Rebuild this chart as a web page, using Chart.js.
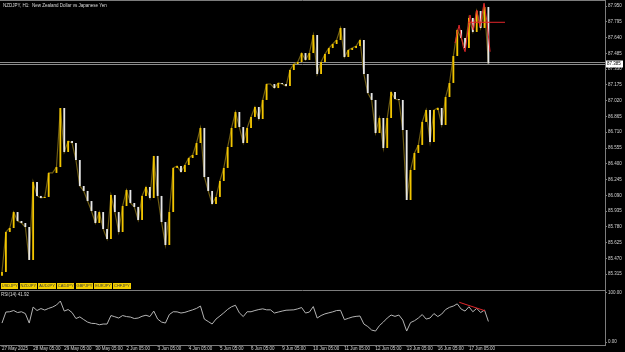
<!DOCTYPE html>
<html>
<head>
<meta charset="utf-8">
<script src="https://cdn.jsdelivr.net/npm/chart.js@4.4.1/dist/chart.umd.min.js"></script>
<style>
  html, body { margin: 0; padding: 0; background: #000; }
  #wrap { position: relative; width: 625px; height: 352px; overflow: hidden; font-family: "Liberation Sans", Arial, sans-serif; }
  canvas { position: absolute; left: 0; }
  #main { top: 0; }
  #rsi { top: 290px; }
  .lbl { position: absolute; color: #dcdcdc; font-size: 4.5px; white-space: nowrap; line-height: 5px; }
  #title { left: 3px; top: 3px; }
  #rsiLabel { left: 1px; top: 292px; }
  #syms { position: absolute; left: 1px; top: 283px; display: flex; gap: 1.3px; }
  .sym { width: 17.4px; height: 6px; background: #f3cf00; color: #3a3a3a; font-size: 4px; text-align: center; line-height: 6px; }
</style>
</head>
<body>
<div id="wrap">
  <canvas id="main" width="625" height="290"></canvas>
  <canvas id="rsi" width="625" height="62"></canvas>
  <div id="title" class="lbl">NZDJPY, H1:&nbsp; New Zealand Dollar vs Japanese Yen</div>
  <div id="syms"></div>
  <div id="rsiLabel" class="lbl">RSI(14) 41.92</div>
</div>
<script>
// time axis: H1 bar number of each day label (27 May 05:00 = bar 0)
const dayLabels = ['27 May 2025', '28 May 05:00', '29 May 05:00', '30 May 05:00', '2 Jun 05:00', '3 Jun 05:00',
  '4 Jun 05:00', '5 Jun 05:00', '6 Jun 05:00', '9 Jun 05:00', '10 Jun 05:00', '11 Jun 05:00',
  '12 Jun 05:00', '13 Jun 05:00', '16 Jun 05:00', '17 Jun 05:00'];
const dayBars = [0, 24, 48, 72, 96, 120, 144, 168, 192, 216, 240, 264, 288, 312, 336, 360];
const symbols = ['USDJPY', 'NZDJPY', 'AUDJPY', 'CADJPY', 'GBPJPY', 'EURJPY', 'CHFJPY'];

// closes read every 3 H1 bars
const barStep = 3;
const firstOpen = 85.30;
const closes = [
  85.337, 85.730, 85.769, 85.926, 85.838, 85.818, 85.779, 85.455, 86.221, 86.084,
  86.064, 86.074, 86.310, 86.310, 86.368, 86.948, 86.516, 86.624, 86.604, 86.437,
  86.182, 86.133, 86.034, 85.936, 85.818, 85.926, 85.759, 85.661, 86.093, 85.926,
  85.730, 85.985, 86.143, 86.015, 85.976, 85.848, 86.084, 86.172, 86.064, 86.477,
  86.084, 85.828, 85.602, 85.926, 86.359, 86.378, 86.319, 86.388, 86.457, 86.486,
  86.604, 86.752, 86.270, 86.133, 86.005, 86.074, 86.231, 86.359, 86.565, 86.752,
  86.909, 86.761, 86.604, 86.752, 86.860, 86.958, 86.840, 87.027, 87.184, 87.184,
  87.144, 87.194, 87.184, 87.164, 87.321, 87.380, 87.400, 87.488, 87.420, 87.488,
  87.665, 87.282, 87.400, 87.478, 87.537, 87.577, 87.616, 87.734, 87.449, 87.518,
  87.537, 87.557, 87.616, 87.282, 87.095, 87.027, 86.702, 86.850, 86.555, 86.850,
  87.105, 87.036, 87.027, 86.732, 86.044, 86.339, 86.506, 86.585, 86.811, 86.928,
  86.614, 86.928, 86.948, 86.781, 87.056, 87.194, 87.459, 87.714, 87.636, 87.537,
  87.832, 87.695, 87.901, 87.734, 87.940, 87.385
];
const rsiValues = [
  38.7, 61.1, 61.7, 64.2, 60.1, 61.7, 58.0, 38.7, 71.3, 64.2,
  68.2, 65.2, 68.6, 71.3, 75.4, 83.5, 63.1, 66.2, 60.1, 47.9,
  51.3, 45.8, 40.7, 38.1, 37.7, 35.2, 36.7, 36.7, 54.0, 51.5,
  48.9, 54.0, 51.9, 50.9, 47.9, 48.9, 52.5, 54.6, 51.9, 63.1,
  46.8, 40.7, 38.7, 56.0, 61.7, 61.5, 59.1, 60.5, 63.1, 65.6,
  68.6, 73.3, 46.8, 41.8, 36.7, 46.8, 53.0, 59.5, 66.6, 71.9,
  74.9, 59.5, 51.9, 61.7, 61.7, 64.2, 66.2, 67.6, 65.6, 65.6,
  59.1, 61.1, 63.1, 64.8, 65.2, 65.6, 67.6, 70.3, 59.1, 61.1,
  72.3, 48.9, 54.0, 57.4, 59.5, 61.5, 64.2, 64.6, 45.6, 48.3,
  50.9, 52.3, 53.0, 36.7, 31.6, 24.4, 22.4, 33.6, 40.7, 48.9,
  55.0, 52.3, 55.0, 44.8, 22.4, 39.7, 43.4, 48.9, 56.0, 46.8,
  48.9, 58.0, 51.9, 57.0, 66.2, 70.7, 73.3, 77.8, 67.2, 63.1,
  71.9, 61.7, 68.6, 60.1, 65.2, 41.92
];

const priceTicks = [85.315, 85.470, 85.625, 85.780, 85.935, 86.090, 86.245, 86.400, 86.555,
  86.710, 86.865, 87.020, 87.175, 87.330, 87.485, 87.640, 87.795, 87.950];
const lastPrice = 87.385;

// red drawings
const zigzagBars = [349.3, 352.4, 355.6, 357.0, 360.8, 363.4, 366.0, 368.5, 371.6, 373.7, 376.3];
const zigzagPrices = [87.587, 87.763, 87.550, 87.501, 87.862, 87.714, 87.911, 87.747, 87.977, 87.812, 87.501];
const levelBars = [359.5, 387.8];
const levelPrice = 87.79;
const rsiTrendBars = [352.6, 372.4];
const rsiTrendValues = [80.9, 63.7];

const xMin = -1.54, xMax = 464.9;
const upColor = '#f2c500', downColor = '#e6e6e6', red = '#e3262b', frameColor = '#7c7c7c', textColor = '#d4d4d4';
const tickFont = { family: 'Liberation Sans', size: 4.5 };

const candles = closes.map((c, i) => ({ x: i * barStep, y: [i === 0 ? firstOpen : closes[i - 1], c] }));
const closeLine = closes.map((c, i) => ({ x: i * barStep, y: c }));
const rsiPoints = rsiValues.map((v, i) => ({ x: i * barStep, y: v }));

const syms = document.getElementById('syms');
symbols.forEach(s => { const d = document.createElement('div'); d.className = 'sym'; d.textContent = s; syms.appendChild(d); });

function fitRight(scale) {
  scale.width = 20;
  scale.paddingTop = 0;
  scale.paddingBottom = 0;
}

const mainFrame = {
  id: 'mainFrame',
  beforeDatasetsDraw(chart) {
    const { ctx, chartArea: a, scales: { y } } = chart;
    const py = Math.round(y.getPixelForValue(lastPrice));
    ctx.save();
    ctx.strokeStyle = '#8c8c8c';
    ctx.lineWidth = 1;
    ctx.beginPath();
    ctx.moveTo(a.left, py - 1.5); ctx.lineTo(a.right, py - 1.5);
    ctx.moveTo(a.left, py + 0.5); ctx.lineTo(a.right, py + 0.5);
    ctx.stroke();
    ctx.restore();
  },
  afterDraw(chart) {
    const { ctx, chartArea: a, scales: { y } } = chart;
    const py = Math.round(y.getPixelForValue(lastPrice));
    ctx.save();
    ctx.strokeStyle = frameColor;
    ctx.beginPath(); ctx.moveTo(a.left, 0.5); ctx.lineTo(a.right, 0.5); ctx.stroke();
    ctx.fillStyle = '#ffffff';
    ctx.fillRect(a.right + 1, py - 3.5, 17, 7);
    ctx.fillStyle = '#000';
    ctx.font = '4.5px "Liberation Sans"';
    ctx.textBaseline = 'middle';
    ctx.fillText(lastPrice.toFixed(3), a.right + 2, py - 0.5);
    ctx.restore();
  }
};

new Chart(document.getElementById('main'), {
  type: 'bar',
  data: {
    datasets: [
      { type: 'line', data: zigzagBars.map((b, i) => ({ x: b, y: zigzagPrices[i] })), borderColor: red, borderWidth: 1, pointRadius: 0, order: 0 },
      { type: 'line', data: levelBars.map(b => ({ x: b, y: levelPrice })), borderColor: red, borderWidth: 1, pointRadius: 0, order: 0 },
      {
        type: 'bar', data: candles, order: 1, borderWidth: 0,
        barPercentage: 0.95, categoryPercentage: 0.5,
        backgroundColor: ctx => (ctx.raw && ctx.raw.y[1] >= ctx.raw.y[0]) ? upColor : downColor
      },
      { type: 'line', data: closeLine, borderColor: '#6e5c12', borderWidth: 1.2, pointRadius: 0, order: 2 }
    ]
  },
  options: {
    responsive: false, animation: false,
    plugins: { legend: { display: false }, tooltip: { enabled: false } },
    scales: {
      x: { type: 'linear', min: xMin, max: xMax, offset: false, display: false },
      y: {
        position: 'right', min: 85.160, max: 88.009, beginAtZero: false,
        afterBuildTicks: s => { s.ticks = priceTicks.map(v => ({ value: v })); },
        afterFit: fitRight,
        ticks: { autoSkip: false, font: tickFont, color: textColor, padding: 1, callback: v => v.toFixed(3) },
        grid: { drawOnChartArea: false, tickLength: 2, color: frameColor },
        border: { color: frameColor }
      }
    }
  },
  plugins: [mainFrame]
});

const rsiFrame = {
  id: 'rsiFrame',
  afterDraw(chart) {
    const { ctx, chartArea: a } = chart;
    ctx.save();
    ctx.strokeStyle = frameColor;
    ctx.beginPath(); ctx.moveTo(a.left, a.top + 0.5); ctx.lineTo(a.right, a.top + 0.5); ctx.stroke();
    ctx.restore();
  }
};

new Chart(document.getElementById('rsi'), {
  type: 'line',
  data: {
    datasets: [
      { data: rsiTrendBars.map((b, i) => ({ x: b, y: rsiTrendValues[i] })), borderColor: red, borderWidth: 1, pointRadius: 0, order: 0 },
      { data: rsiPoints, borderColor: '#b4b4b4', borderWidth: 1, pointRadius: 0, order: 1 }
    ]
  },
  options: {
    responsive: false, animation: false,
    plugins: { legend: { display: false }, tooltip: { enabled: false } },
    scales: {
      x: {
        type: 'linear', min: xMin, max: xMax, offset: false,
        afterBuildTicks: s => { s.ticks = dayBars.map(v => ({ value: v })); },
        afterFit: s => { s.height = 7; s.paddingLeft = 0; s.paddingRight = 0; },
        ticks: { autoSkip: false, maxRotation: 0, align: 'start', padding: 0, font: tickFont, color: textColor,
          callback: (v, i) => dayLabels[i] },
        grid: { drawOnChartArea: false, tickLength: 1.5, color: frameColor },
        border: { color: frameColor }
      },
      y: {
        position: 'right', min: -6, max: 106, beginAtZero: false,
        afterBuildTicks: s => { s.ticks = [{ value: 0 }, { value: 100 }]; },
        afterFit: fitRight,
        ticks: { autoSkip: false, font: tickFont, color: textColor, padding: 1, callback: v => v.toFixed(2) },
        grid: { drawOnChartArea: false, tickLength: 2, color: frameColor },
        border: { color: frameColor }
      }
    }
  },
  plugins: [rsiFrame]
});
</script>
</body>
</html>
